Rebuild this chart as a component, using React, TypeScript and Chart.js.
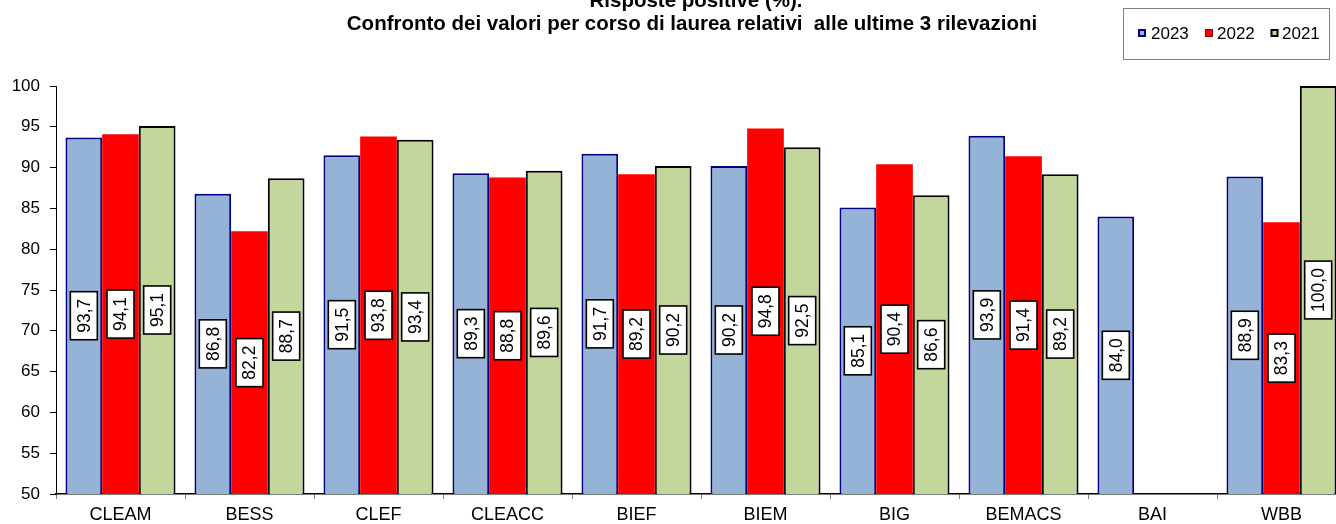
import React, { useEffect, useRef } from "react";
import { Chart, registerables } from "chart.js";

Chart.register(...registerables);

const categories = ["CLEAM", "BESS", "CLEF", "CLEACC", "BIEF", "BIEM", "BIG", "BEMACS", "BAI", "WBB"];
const values2023: (number | null)[] = [93.7, 86.8, 91.5, 89.3, 91.7, 90.2, 85.1, 93.9, 84.0, 88.9];
const values2022: (number | null)[] = [94.1, 82.2, 93.8, 88.8, 89.2, 94.8, 90.4, 91.4, null, 83.3];
const values2021: (number | null)[] = [95.1, 88.7, 93.4, 89.6, 90.2, 92.5, 86.6, 89.2, null, 100.0];
const seriesNames = ["2023", "2022", "2021"];
const titleLines = ["Risposte positive (%).", "Confronto dei valori per corso di laurea relativi  alle ultime 3 rilevazioni"];
const yMin = 50;
const yMax = 100;
const yStep = 5;

const FONT = '"Liberation Sans", Arial, sans-serif';

const fills = ["#95B3D7", "#FF0000", "#C3D69B"];
const borders = ["#000080", "#FF0000", "#000000"];
const borderWidths = [2, 0, 2];

const overlayPlugin = {
  id: "overlay",
  afterDatasetsDraw(chart: any) {
    const ctx = chart.ctx;
    const bottom = chart.chartArea.bottom;
    chart.data.datasets.forEach((ds: any, i: number) => {
      const meta = chart.getDatasetMeta(i);
      meta.data.forEach((bar: any, j: number) => {
        const v = ds.data[j];
        if (v == null) return;
        const p = bar.getProps(["x", "y", "base"], true);
        const base = Math.min(p.base, bottom);
        const cy = (p.y + base) / 2;
        const text = v.toFixed(1).replace(".", ",");
        ctx.save();
        ctx.translate(p.x, cy);
        ctx.rotate(-Math.PI / 2);
        ctx.font = `17.5px ${FONT}`;
        const w = ctx.measureText(text).width;
        const bw = w + 14;
        const bh = 27;
        ctx.fillStyle = "#ffffff";
        ctx.fillRect(-bw / 2, -bh / 2, bw, bh);
        ctx.lineWidth = 1.6;
        ctx.strokeStyle = "#000000";
        ctx.strokeRect(-bw / 2, -bh / 2, bw, bh);
        ctx.fillStyle = "#000000";
        ctx.textAlign = "center";
        ctx.textBaseline = "middle";
        ctx.fillText(text, 0, 1);
        ctx.restore();
      });
    });
  },
  afterDraw(chart: any) {
    const ctx = chart.ctx;
    ctx.save();
    // title
    ctx.font = `bold 20.5px ${FONT}`;
    ctx.fillStyle = "#000";
    ctx.textAlign = "center";
    ctx.textBaseline = "alphabetic";
    ctx.fillText(titleLines[0], 696, 7);
    ctx.fillText(titleLines[1], 692, 30);
    // legend
    ctx.strokeStyle = "#808080";
    ctx.lineWidth = 1;
    ctx.strokeRect(1123.5, 8.5, 206, 51);
    const markerX = [1138, 1205, 1270.5];
    const textX = [1151, 1217, 1282];
    ctx.font = `17px ${FONT}`;
    ctx.textAlign = "left";
    ctx.textBaseline = "middle";
    for (let k = 0; k < 3; k++) {
      ctx.fillStyle = fills[k];
      ctx.fillRect(markerX[k], 29, 8, 8);
      ctx.strokeStyle = k === 1 ? "#A00000" : borders[k];
      ctx.lineWidth = k === 1 ? 1 : 2;
      ctx.strokeRect(markerX[k] + (k === 1 ? 0.5 : 1), 29 + (k === 1 ? 0.5 : 1), k === 1 ? 7 : 6, k === 1 ? 7 : 6);
      ctx.fillStyle = "#000";
      ctx.fillText(seriesNames[k], textX[k], 34);
    }
    ctx.restore();
  },
};

export default function App() {
  const ref = useRef<HTMLCanvasElement | null>(null);
  useEffect(() => {
    if (!ref.current) return;
    const data = [values2023, values2022, values2021];
    const chart = new Chart(ref.current, {
      type: "bar",
      data: {
        labels: categories,
        datasets: seriesNames.map((name, k) => ({
          label: name,
          data: data[k],
          backgroundColor: fills[k],
          borderColor: borders[k],
          borderWidth: borderWidths[k],
          borderSkipped: "bottom",
          categoryPercentage: 0.853,
          barPercentage: 1.0,
        })),
      },
      options: {
        responsive: false,
        animation: false,
        devicePixelRatio: 1,
        layout: { padding: { top: 86, right: 38, left: 0, bottom: 0 } },
        plugins: {
          legend: { display: false },
          title: { display: false },
          tooltip: { enabled: false },
        },
        scales: {
          x: {
            offset: true,
            grid: {
              display: true,
              drawOnChartArea: false,
              drawTicks: true,
              tickLength: 5,
              color: "#808080",
              offset: true,
            },
            border: { display: true, color: "#000000", width: 1.5 },
            ticks: {
              color: "#000000",
              font: { family: FONT, size: 18 },
              padding: 5,
              maxRotation: 0,
              autoSkip: false,
            },
            afterFit: (scale: any) => {
              scale.height = 30;
            },
          },
          y: {
            min: yMin,
            max: yMax,
            grid: {
              display: true,
              drawOnChartArea: false,
              drawTicks: true,
              tickLength: 6,
              color: "#000000",
            },
            border: { display: true, color: "#000000", width: 1 },
            ticks: {
              stepSize: yStep,
              color: "#000000",
              font: { family: FONT, size: 17 },
              padding: 10,
            },
            afterFit: (scale: any) => {
              scale.width = 56;
            },
          },
        },
      },
      plugins: [overlayPlugin],
    });
    return () => chart.destroy();
  }, []);
  return (
    <div
      style={{
        position: "fixed",
        left: 0,
        top: 0,
        width: 1336,
        height: 524,
        overflow: "hidden",
        background: "#ffffff",
      }}
    >
      <canvas ref={ref} width={1384} height={524} style={{ width: 1384, height: 524, display: "block" }} />
    </div>
  );
}
